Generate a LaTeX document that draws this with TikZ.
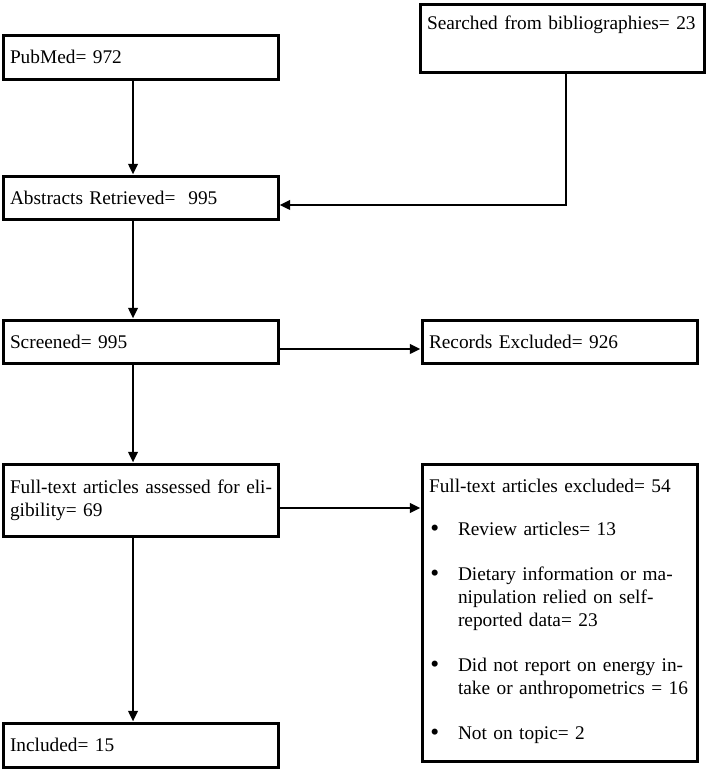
\documentclass[tikz,border=0pt]{standalone}
\usepackage{fontspec}
\setmainfont{Liberation Serif}
\usetikzlibrary{arrows.meta, positioning}
\newcommand{\bigdot}{\hspace{1pt}\raisebox{-1pt}{\fontsize{19}{17.25}\selectfont\textbullet}}

\begin{document}
\begin{tikzpicture}[x=0.75pt, y=-0.75pt,
    box/.style={draw, line width=2.25pt, rectangle, align=left, inner xsep=5.25pt, inner ysep=0pt,
      font=\fontsize{14.5}{17.25}\selectfont},
    leftbox/.style={box, text width=195.75pt},
    arr/.style={line width=2.1pt, -{Triangle[length=8pt, width=7pt]}}]
  \useasboundingbox (0,0) rectangle (708,771);

  % Left column
  \node[leftbox, minimum height=33pt] (pub) at (140.5,57) {PubMed= 972};
  \node[leftbox, minimum height=32.25pt] (abs) at (140.5,197.5) {Abstracts Retrieved= ~995};
  \node[leftbox, minimum height=32.25pt] (scr) at (140.5,341.5) {Screened= 995};
  \node[leftbox, minimum height=54pt] (ful) at (140.5,500) {\mbox{Full-text articles assessed for eli-}\\gibility= 69};
  \node[leftbox, minimum height=33pt] (inc) at (140.5,745) {Included= 15};

  % Right column
  \node[box, text width=202.5pt, minimum height=51pt] (src) at (562,38) {Searched from bibliographies= 23\\\strut};
  \node[box, text width=195.75pt, minimum height=32.25pt] (rex) at (559.5,341.5) {Records Excluded= 926};
  \node[box, text width=195.75pt, minimum height=222.75pt] (fex) at (559.5,612.5) {%
    Full-text articles excluded= 54\\[15pt]
    \begin{tabular}[t]{@{}p{21.75pt}@{}l@{}}
      \bigdot & Review articles= 13\\[16.5pt]
      \bigdot & Dietary information or ma-\\
              & nipulation relied on self-\\
              & reported data= 23\\[16.5pt]
      \bigdot & Did not report on energy in-\\
              & take or anthropometrics = 16\\[16.5pt]
      \bigdot & Not on topic= 2
    \end{tabular}};

  % Connectors
  \draw[arr] ([xshift=-5.6pt]pub.south) -- ([xshift=-5.6pt]abs.north);
  \draw[arr] ([xshift=3pt]src.south) |- ([yshift=-5.6pt]abs.east);
  \draw[arr] ([xshift=-5.6pt]abs.south) -- ([xshift=-5.6pt]scr.north);
  \draw[arr] ([yshift=-5.6pt]scr.east) -- ([yshift=-5.6pt]rex.west);
  \draw[arr] ([xshift=-5.6pt]scr.south) -- ([xshift=-5.6pt]ful.north);
  \draw[arr] ([yshift=-6pt]ful.east) -- ([yshift=-6pt]ful.east -| fex.west);
  \draw[arr] ([xshift=-5.6pt]ful.south) -- ([xshift=-5.6pt]inc.north);
\end{tikzpicture}
\end{document}
